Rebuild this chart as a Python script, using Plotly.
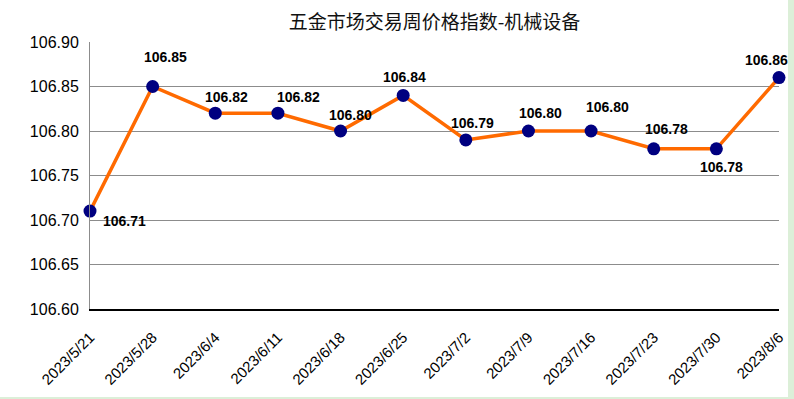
import plotly.graph_objects as go

dates = ["2023/5/21", "2023/5/28", "2023/6/4", "2023/6/11", "2023/6/18", "2023/6/25",
         "2023/7/2", "2023/7/9", "2023/7/16", "2023/7/23", "2023/7/30", "2023/8/6"]
values = [106.71, 106.85, 106.82, 106.82, 106.80, 106.84,
          106.79, 106.80, 106.80, 106.78, 106.78, 106.86]
y_ticks = [106.60, 106.65, 106.70, 106.75, 106.80, 106.85, 106.90]
title = "五金市场交易周价格指数-机械设备"

# label pixel offsets (dx, dy screen)
label_dx = [34, 13, 11, 21, 10, 1, 7, 12, 16, 13, 5, -13]
label_dy = [10, -30, -16, -16, -16, -18, -17, -18, -24, -20, 18, -18]

fig = go.Figure()
fig.add_trace(go.Scatter(
    x=dates, y=values, mode="lines+markers",
    line=dict(color="#FF6A00", width=3.5),
    marker=dict(color="#000080", size=13, line=dict(width=0)),
    cliponaxis=False, hoverinfo="x+y",
))

annotations = []
for d, v, dx, dy in zip(dates, values, label_dx, label_dy):
    annotations.append(dict(
        x=d, y=v, xref="x", yref="y", text=f"<b>{v:.2f}</b>", showarrow=False,
        xshift=dx, yshift=-dy, xanchor="center", yanchor="middle",
        font=dict(family="Liberation Sans, Arial, sans-serif", size=14, color="#000000"),
    ))

fig.update_layout(
    width=794, height=399,
    margin=dict(l=90, r=15, t=42, b=90, autoexpand=False),
    paper_bgcolor="#FFFFFF", plot_bgcolor="#FFFFFF",
    showlegend=False,
    title=dict(text=title, x=0.5, xref="paper", xanchor="center", y=1 - 22 / 399, yanchor="middle",
               font=dict(family="Noto Sans CJK SC, sans-serif", size=19, color="#111111")),
    annotations=annotations,
    shapes=[
        dict(type="rect", xref="paper", yref="paper", x0=(788 - 90) / 689, x1=(800 - 90) / 689,
             y0=-(405 - 309) / 267, y1=1 + 45 / 267, fillcolor="#DCEFD8", line=dict(width=0), layer="below"),
        dict(type="rect", xref="paper", yref="paper", x0=-90 / 689, x1=(800 - 90) / 689,
             y0=-(405 - 309) / 267, y1=-(397 - 309) / 267, fillcolor="#DCEFD8", line=dict(width=0), layer="below"),
    ],
)

fig.update_xaxes(
    type="category", range=[0, len(dates) - 1], automargin=False,
    tickangle=-45, tickfont=dict(family="Liberation Sans, Arial, sans-serif", size=15, color="#000000"),
    ticks="outside", ticklen=12, tickcolor="rgba(0,0,0,0)",
    showgrid=False, showline=True, linecolor="#000000", linewidth=1.5,
    zeroline=False,
)
fig.update_yaxes(
    range=[106.60, 106.90], tickvals=y_ticks, ticktext=[f"{t:.2f}" for t in y_ticks], automargin=False,
    tickfont=dict(family="Liberation Sans, Arial, sans-serif", size=16, color="#000000"),
    ticks="outside", ticklen=7, tickcolor="rgba(0,0,0,0)",
    showgrid=True, gridcolor="#8C8C8C", gridwidth=1,
    showline=True, linecolor="#8C8C8C", linewidth=1, zeroline=False,
)

fig.write_html("out.html", config={"displayModeBar": False},
               post_script="document.body.style.margin='0px';document.body.style.overflow='hidden';")
